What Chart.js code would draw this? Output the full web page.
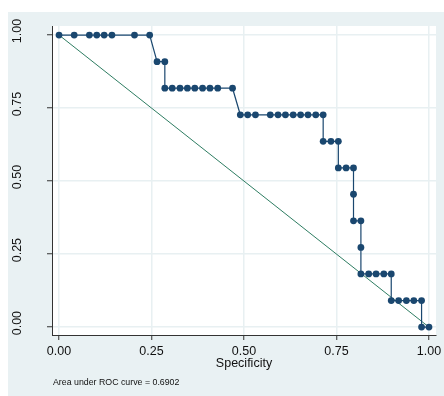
<!DOCTYPE html>
<html>
<head>
<meta charset="utf-8">
<script src="https://cdn.jsdelivr.net/npm/chart.js@4/dist/chart.umd.min.js"></script>
<style>
  html, body { margin: 0; padding: 0; background: #ffffff; }
  #wrap { width: 444px; height: 396px; }
</style>
</head>
<body>
<div id="wrap"><canvas id="c" width="444" height="396"></canvas></div>
<script>
// ---- data ----
const rocSpecificity = [0,0.041,0.082,0.102,0.122,0.143,0.204,0.245,
  0.265,0.286,
  0.286,0.306,0.327,0.347,0.367,0.388,0.408,0.429,0.469,
  0.490,0.510,0.531,0.571,0.592,0.612,0.633,0.653,0.673,0.694,0.714,
  0.714,0.735,0.755,
  0.755,0.776,0.796,
  0.796,
  0.796,0.816,
  0.816,
  0.816,0.837,0.857,0.878,0.898,
  0.898,0.918,0.939,0.959,0.980,
  0.980,1.000];
const rocSensitivity = [1,1,1,1,1,1,1,1,
  0.909,0.909,
  0.818,0.818,0.818,0.818,0.818,0.818,0.818,0.818,0.818,
  0.727,0.727,0.727,0.727,0.727,0.727,0.727,0.727,0.727,0.727,0.727,
  0.636,0.636,0.636,
  0.545,0.545,0.545,
  0.455,
  0.364,0.364,
  0.273,
  0.182,0.182,0.182,0.182,0.182,
  0.091,0.091,0.091,0.091,0.091,
  0,0];
const refLineX = [0, 1];
const refLineY = [1, 0];
const xTickValues = [0, 0.25, 0.5, 0.75, 1];
const xTickLabels = ['0.00', '0.25', '0.50', '0.75', '1.00'];
const yTickValues = [0, 0.25, 0.5, 0.75, 1];
const yTickLabels = ['0.00', '0.25', '0.50', '0.75', '1.00'];
const xTitle = 'Specificity';
const noteText = 'Area under ROC curve = 0.6902';

// ---- styling ----
const BG = '#e9f1f3';
const NAVY = '#1a476f';
const GREEN = '#2e7d62';
const FONT = '"Liberation Sans Narrow", "Liberation Sans", Arial, sans-serif';

const rocData = rocSpecificity.map((x, i) => ({ x: x, y: rocSensitivity[i] }));
const refData = refLineX.map((x, i) => ({ x: x, y: refLineY[i] }));

const bgPlugin = {
  id: 'bg',
  beforeDraw(chart) {
    const ctx = chart.ctx;
    const a = chart.chartArea;
    ctx.save();
    ctx.fillStyle = '#ffffff';
    ctx.fillRect(0, 0, chart.width, chart.height);
    ctx.fillStyle = BG;
    ctx.fillRect(8, 12, chart.width - 8, chart.height - 12);
    ctx.fillStyle = '#ffffff';
    ctx.fillRect(a.left, a.top, a.right - a.left, a.bottom - a.top);
    ctx.restore();
  },
  afterDraw(chart) {
    const ctx = chart.ctx;
    ctx.save();
    ctx.fillStyle = '#111111';
    ctx.font = '8.8px "Liberation Sans", Arial, sans-serif';
    ctx.textAlign = 'left';
    ctx.textBaseline = 'middle';
    ctx.fillText(noteText, 53, 383);
    ctx.restore();
  }
};

new Chart(document.getElementById('c'), {
  type: 'scatter',
  data: {
    datasets: [
      {
        data: rocData,
        showLine: true,
        borderColor: NAVY,
        borderWidth: 1.2,
        backgroundColor: NAVY,
        pointBackgroundColor: NAVY,
        pointBorderColor: NAVY,
        pointBorderWidth: 0,
        pointRadius: 3.4,
        tension: 0,
        clip: false
      },
      {
        data: refData,
        showLine: true,
        borderColor: GREEN,
        borderWidth: 1,
        pointRadius: 0,
        tension: 0,
        clip: false
      }
    ]
  },
  options: {
    responsive: false,
    animation: false,
    devicePixelRatio: 1,
    layout: { padding: { left: 8, top: 26, right: 8, bottom: 0 } },
    plugins: { legend: { display: false }, tooltip: { enabled: false } },
    scales: {
      x: {
        type: 'linear',
        min: -0.019,
        max: 1.019,
        afterBuildTicks(scale) { scale.ticks = xTickValues.map(v => ({ value: v })); },
        afterFit(scale) { scale.height = 61; scale.paddingLeft = 0; scale.paddingRight = 0; },
        ticks: {
          callback: (v, i) => xTickLabels[i],
          color: '#111111',
          font: { family: FONT, size: 12.5 },
          padding: 4,
          maxRotation: 0,
          minRotation: 0,
          autoSkip: false
        },
        grid: {
          color: '#e8f0f2',
          lineWidth: 1.5,
          tickColor: '#333333',
          tickLength: 5,
          tickWidth: 1
        },
        border: { color: '#333333', width: 1 },
        title: {
          display: true,
          text: xTitle,
          color: '#111111',
          font: { family: FONT, size: 12.5 },
          padding: { top: 0, bottom: 25 }
        }
      },
      y: {
        type: 'linear',
        min: -0.027,
        max: 1.031,
        afterBuildTicks(scale) { scale.ticks = yTickValues.map(v => ({ value: v })); },
        afterFit(scale) { scale.width = 44; scale.paddingTop = 0; scale.paddingBottom = 0; },
        ticks: {
          callback: (v, i) => yTickLabels[i],
          color: '#111111',
          font: { family: FONT, size: 12.5 },
          padding: 17,
          minRotation: 90,
          maxRotation: 90,
          crossAlign: 'center',
          labelOffset: -4,
          autoSkip: false
        },
        grid: {
          color: '#e8f0f2',
          lineWidth: 1.5,
          tickColor: '#333333',
          tickLength: 5,
          tickWidth: 1
        },
        border: { color: '#333333', width: 1 }
      }
    }
  },
  plugins: [bgPlugin]
});
</script>
</body>
</html>
